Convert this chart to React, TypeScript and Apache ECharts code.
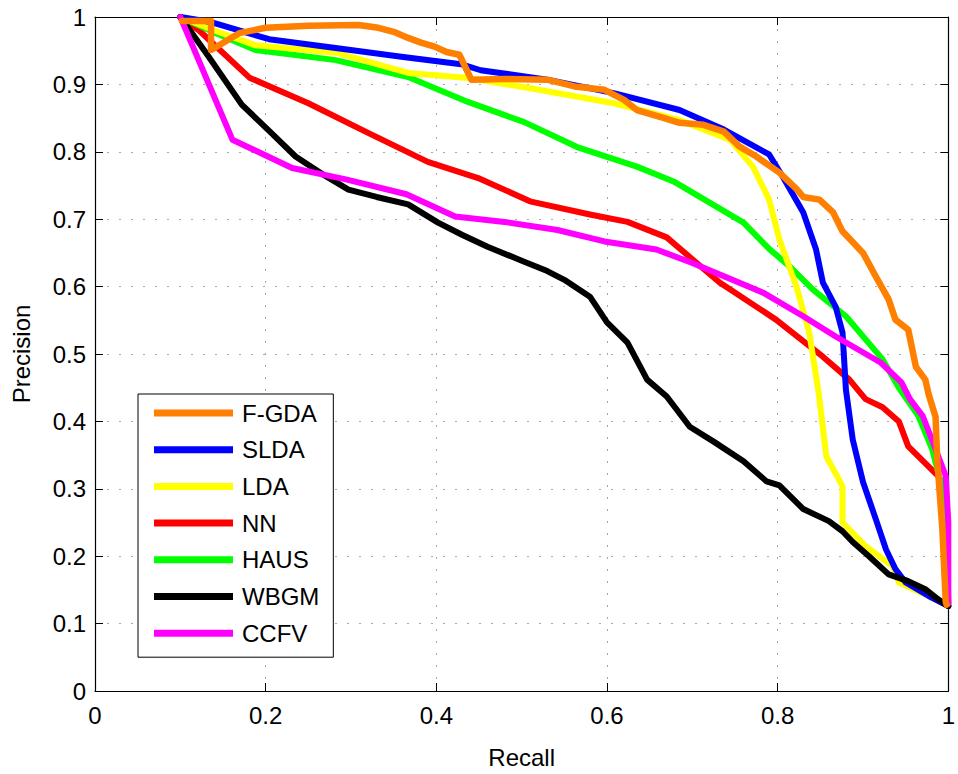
import React, { useEffect, useRef } from "react";
import * as echarts from "echarts";

// ---- Data ----
const xTicks = [0, 0.2, 0.4, 0.6, 0.8, 1];
const yTicks = [0, 0.1, 0.2, 0.3, 0.4, 0.5, 0.6, 0.7, 0.8, 0.9, 1];

const legendOrder = ["F-GDA", "SLDA", "LDA", "NN", "HAUS", "WBGM", "CCFV"];

const fgdaX = [0.102, 0.136, 0.136, 0.169, 0.2, 0.25, 0.309, 0.332, 0.35, 0.367, 0.382, 0.398, 0.412, 0.427, 0.441, 0.48, 0.53, 0.562, 0.597, 0.62, 0.635, 0.667, 0.685, 0.713, 0.737, 0.755, 0.775, 0.802, 0.822, 0.83, 0.849, 0.865, 0.876, 0.9, 0.915, 0.93, 0.938, 0.953, 0.962, 0.973, 0.977, 0.985, 0.987, 0.993, 0.997, 0.998];
const fgdaY = [0.994, 0.994, 0.951, 0.976, 0.984, 0.987, 0.988, 0.984, 0.978, 0.969, 0.962, 0.956, 0.948, 0.944, 0.907, 0.908, 0.907, 0.897, 0.892, 0.877, 0.862, 0.85, 0.843, 0.84, 0.83, 0.808, 0.793, 0.769, 0.745, 0.733, 0.729, 0.71, 0.682, 0.65, 0.615, 0.581, 0.551, 0.536, 0.481, 0.462, 0.44, 0.407, 0.344, 0.24, 0.132, 0.128];

const sldaX = [0.1, 0.134, 0.204, 0.282, 0.359, 0.429, 0.452, 0.53, 0.608, 0.685, 0.737, 0.79, 0.806, 0.83, 0.845, 0.853, 0.868, 0.876, 0.88, 0.888, 0.9, 0.915, 0.927, 0.938, 0.95, 0.977, 1.0];
const sldaY = [1.0, 0.993, 0.967, 0.954, 0.941, 0.93, 0.921, 0.907, 0.887, 0.862, 0.833, 0.796, 0.763, 0.71, 0.655, 0.606, 0.57, 0.532, 0.447, 0.373, 0.31, 0.255, 0.21, 0.181, 0.161, 0.141, 0.126];

const ldaX = [0.1, 0.14, 0.188, 0.282, 0.367, 0.434, 0.507, 0.608, 0.685, 0.744, 0.771, 0.79, 0.802, 0.822, 0.837, 0.848, 0.857, 0.876, 0.876, 0.903, 0.935, 0.942, 0.977, 1.0];
const ldaY = [1.0, 0.98, 0.958, 0.947, 0.917, 0.91, 0.895, 0.872, 0.847, 0.818, 0.778, 0.729, 0.67, 0.6, 0.532, 0.443, 0.348, 0.304, 0.25, 0.215, 0.185, 0.161, 0.141, 0.126];

const nnX = [0.1, 0.122, 0.181, 0.25, 0.32, 0.39, 0.449, 0.511, 0.58, 0.624, 0.67, 0.732, 0.798, 0.853, 0.884, 0.903, 0.923, 0.942, 0.953, 0.977, 0.988, 0.997, 1.0];
const nnY = [1.0, 0.98, 0.91, 0.872, 0.828, 0.785, 0.761, 0.726, 0.707, 0.696, 0.673, 0.606, 0.551, 0.496, 0.462, 0.433, 0.421, 0.4, 0.363, 0.333, 0.319, 0.3, 0.13];

const hausX = [0.1, 0.142, 0.188, 0.282, 0.367, 0.437, 0.503, 0.565, 0.635, 0.678, 0.76, 0.79, 0.814, 0.841, 0.88, 0.923, 0.942, 0.965, 0.981, 0.993, 1.0];
const hausY = [1.0, 0.976, 0.951, 0.936, 0.911, 0.874, 0.844, 0.807, 0.778, 0.756, 0.695, 0.656, 0.63, 0.596, 0.556, 0.492, 0.45, 0.408, 0.359, 0.3, 0.13];

const wbgmX = [0.1, 0.13, 0.172, 0.205, 0.235, 0.265, 0.297, 0.33, 0.367, 0.402, 0.43, 0.46, 0.503, 0.53, 0.55, 0.58, 0.6, 0.624, 0.647, 0.67, 0.697, 0.725, 0.76, 0.787, 0.802, 0.83, 0.86, 0.876, 0.888, 0.907, 0.93, 0.953, 0.973, 0.988, 1.0];
const wbgmY = [1.0, 0.947, 0.87, 0.83, 0.793, 0.768, 0.744, 0.733, 0.722, 0.695, 0.677, 0.659, 0.637, 0.623, 0.61, 0.585, 0.547, 0.517, 0.462, 0.437, 0.392, 0.37, 0.341, 0.311, 0.305, 0.27, 0.252, 0.237, 0.221, 0.2, 0.173, 0.163, 0.151, 0.136, 0.126];

const ccfvX = [0.1, 0.161, 0.231, 0.294, 0.365, 0.422, 0.48, 0.542, 0.597, 0.658, 0.7, 0.783, 0.83, 0.868, 0.921, 0.945, 0.955, 0.97, 0.985, 0.997, 1.0, 1.0];
const ccfvY = [1.0, 0.818, 0.776, 0.759, 0.737, 0.704, 0.696, 0.684, 0.667, 0.655, 0.635, 0.591, 0.556, 0.526, 0.487, 0.458, 0.433, 0.408, 0.359, 0.319, 0.25, 0.13];

const zip = (xs: number[], ys: number[]) => xs.map((x, i) => [x, ys[i]]);

// draw order (bottom -> top)
const seriesDefs = [
  { name: "NN", xs: nnX, ys: nnY, color: "#FF0000", width: 6 },
  { name: "HAUS", xs: hausX, ys: hausY, color: "#00FF00", width: 6 },
  { name: "LDA", xs: ldaX, ys: ldaY, color: "#FFFF00", width: 6 },
  { name: "SLDA", xs: sldaX, ys: sldaY, color: "#0000FF", width: 6 },
  { name: "WBGM", xs: wbgmX, ys: wbgmY, color: "#000000", width: 6 },
  { name: "CCFV", xs: ccfvX, ys: ccfvY, color: "#FF00FF", width: 6 },
  { name: "F-GDA", xs: fgdaX, ys: fgdaY, color: "#FF7F00", width: 6.5 },
];

const FONT = "'Liberation Sans', Arial, Helvetica, sans-serif";

export default function App() {
  const ref = useRef<HTMLDivElement>(null);
  useEffect(() => {
    if (!ref.current) return;
    const chart = echarts.init(ref.current, undefined, { renderer: "svg" });
    const dotted = { color: "#a8a8a8", width: 1, type: [2, 10] as any };
    const option: any = {
      animation: false,
      backgroundColor: "#ffffff",
      textStyle: { fontFamily: FONT },
      grid: { left: 95, top: 17, width: 858, height: 675, containLabel: false },
      legend: {
        data: legendOrder,
        orient: "vertical",
        left: 138,
        top: 394,
        icon: "rect",
        itemWidth: 79,
        itemHeight: 7,
        itemGap: 12.7,
        padding: [7, 14, 12, 16],
        borderColor: "#000",
        borderWidth: 1,
        backgroundColor: "#fff",
        textStyle: { fontSize: 24, fontFamily: FONT, color: "#000", lineHeight: 24, padding: [0, 0, 0, 4] },
      },
      xAxis: [
        {
          type: "value",
          min: 0,
          max: 1,
          interval: 0.2,
          name: "Recall",
          nameLocation: "middle",
          nameGap: 54,
          nameTextStyle: { fontSize: 24, color: "#000", fontFamily: FONT },
          axisLine: { show: true, lineStyle: { color: "#000", width: 1.2 } },
          axisTick: { show: true, inside: true, length: 8, lineStyle: { color: "#000" } },
          axisLabel: {
            fontSize: 24,
            color: "#000",
            margin: 12,
            fontFamily: FONT,
            formatter: (v: number) => (xTicks.includes(Math.round(v * 10) / 10) ? String(Math.round(v * 10) / 10) : ""),
          },
          splitLine: { show: true, lineStyle: dotted },
        },
        {
          type: "value",
          position: "top",
          min: 0,
          max: 1,
          interval: 0.2,
          axisLine: { show: true, onZero: false, lineStyle: { color: "#000", width: 1.2 } },
          axisTick: { show: true, inside: true, length: 8, lineStyle: { color: "#000" } },
          axisLabel: { show: false },
          splitLine: { show: false },
        },
      ],
      yAxis: [
        {
          type: "value",
          min: 0,
          max: 1,
          interval: 0.1,
          name: "Precision",
          nameLocation: "middle",
          nameGap: 62,
          nameTextStyle: { fontSize: 24, color: "#000", fontFamily: FONT },
          axisLine: { show: true, lineStyle: { color: "#000", width: 1.2 } },
          axisTick: { show: true, inside: true, length: 8, lineStyle: { color: "#000" } },
          axisLabel: {
            fontSize: 24,
            color: "#000",
            margin: 9,
            fontFamily: FONT,
            formatter: (v: number) => {
              const r = Math.round(v * 10) / 10;
              return yTicks.includes(r) ? String(r) : "";
            },
          },
          splitLine: { show: true, lineStyle: dotted },
        },
        {
          type: "value",
          position: "right",
          min: 0,
          max: 1,
          interval: 0.1,
          axisLine: { show: true, onZero: false, lineStyle: { color: "#000", width: 1.2 } },
          axisTick: { show: true, inside: true, length: 8, lineStyle: { color: "#000" } },
          axisLabel: { show: false },
          splitLine: { show: false },
        },
      ],
      series: seriesDefs.map((s) => ({
        name: s.name,
        type: "line",
        xAxisIndex: 0,
        yAxisIndex: 0,
        data: zip(s.xs, s.ys),
        showSymbol: false,
        symbol: "none",
        lineStyle: { color: s.color, width: s.width, join: "round", cap: "round" },
        itemStyle: { color: s.color },
        emphasis: { disabled: true },
        clip: true,
      })),
    };
    chart.setOption(option);
    return () => chart.dispose();
  }, []);
  return (
    <div
      ref={ref}
      style={{ position: "fixed", left: 0, top: 0, width: 958, height: 774, background: "#fff" }}
    />
  );
}
